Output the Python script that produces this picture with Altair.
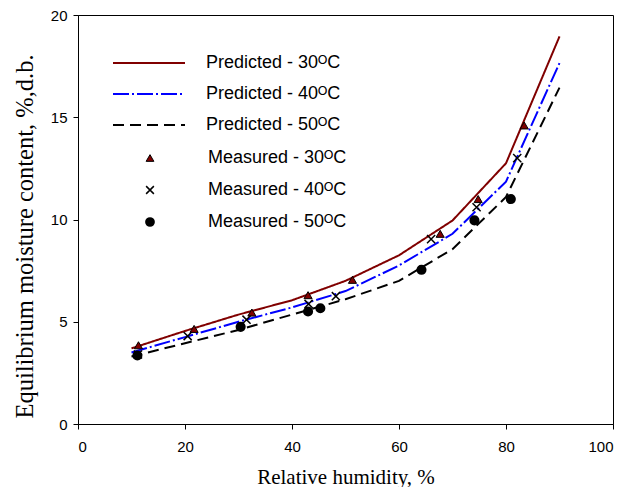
import altair as alt
import pandas as pd

# Predicted curves (relative humidity, %)
rh_pred = [10, 20, 30, 40, 50, 60, 70, 80, 90]
emc_pred_30 = [3.70, 4.55, 5.35, 6.05, 7.00, 8.25, 9.95, 12.75, 18.95]
emc_pred_40 = [3.50, 4.25, 5.00, 5.70, 6.50, 7.75, 9.30, 11.85, 17.65]
emc_pred_50 = [3.30, 3.95, 4.60, 5.35, 6.10, 7.00, 8.55, 11.10, 16.45]

# Measured points
rh_meas_30 = [11.3, 21.7, 32.5, 43.0, 51.3, 67.7, 74.8, 83.4]
emc_meas_30 = [3.85, 4.65, 5.45, 6.30, 7.05, 9.30, 11.0, 14.6]
rh_meas_40 = [11.2, 20.5, 31.5, 43.1, 48.2, 66.0, 74.5, 82.1]
emc_meas_40 = [3.40, 4.30, 5.10, 5.87, 6.25, 9.04, 10.6, 13.0]
rh_meas_50 = [11.1, 30.4, 43.0, 45.3, 64.2, 74.1, 80.9]
emc_meas_50 = [3.35, 4.75, 5.50, 5.66, 7.54, 9.96, 11.0]

pred_names = ["Predicted - 30ᴼC", "Predicted - 40ᴼC", "Predicted - 50ᴼC"]
meas_names = ["Measured - 30ᴼC", "Measured - 40ᴼC", "Measured - 50ᴼC"]

rows = []
for name, ys in zip(pred_names, [emc_pred_30, emc_pred_40, emc_pred_50]):
    for x, y in zip(rh_pred, ys):
        rows.append({"rh": x, "emc": y, "series": name})
pred_df = pd.DataFrame(rows)

rows = []
for name, xs, ys in zip(meas_names, [rh_meas_30, rh_meas_40, rh_meas_50],
                        [emc_meas_30, emc_meas_40, emc_meas_50]):
    for x, y in zip(xs, ys):
        rows.append({"rh": x, "emc": y, "series": name})
meas_df = pd.DataFrame(rows)

x_enc = alt.X("rh:Q", scale=alt.Scale(domain=[0, 100], nice=False),
              axis=alt.Axis(title="Relative humidity, %", values=[0, 20, 40, 60, 80, 100],
                            labelPadding=10, titleFontSize=21,
                            titleY=59, titleBaseline="alphabetic"))
y_enc = alt.Y("emc:Q", scale=alt.Scale(domain=[0, 20], nice=False),
              axis=alt.Axis(title="Equilibrium moisture content, %,d.b.",
                            values=[0, 5, 10, 15, 20], labelPadding=6,
                            titleFontSize=24.5, titleX=-46, titleY=221,
                            titleAngle=270, titleAlign="center",
                            titleBaseline="alphabetic"))

lines = alt.Chart(pred_df).mark_line(strokeWidth=2).encode(
    x=x_enc, y=y_enc,
    color=alt.Color("series:N", scale=alt.Scale(domain=pred_names,
                    range=["#800000", "#0000ff", "#000000"]),
                    legend=alt.Legend(title=None, orient="none", legendX=62, legendY=39,
                                      symbolType="M-8,0L8,0", symbolSize=81,
                                      symbolStrokeWidth=2,
                                      labelFontSize=18, labelFont="Liberation Sans",
                                      labelColor="#000000",
                                      rowPadding=13, labelOffset=48, padding=0)),
    strokeDash=alt.StrokeDash("series:N", scale=alt.Scale(domain=pred_names,
                              range=[[1, 0], [16, 3, 2, 3], [11, 6]]),
                              legend=alt.Legend(title=None)),
)

points = alt.Chart(meas_df).mark_point(filled=True, size=66, opacity=1).encode(
    x="rh:Q", y="emc:Q",
    shape=alt.Shape("series:N", scale=alt.Scale(domain=meas_names,
                    range=["triangle-up", "M-1,-1L1,1M-1,1L1,-1", "circle"]),
                    legend=alt.Legend(title=None, orient="none", legendX=63, legendY=134,
                                      labelFontSize=18, labelFont="Liberation Sans",
                                      labelColor="#000000",
                                      rowPadding=14, labelOffset=49, padding=0,
                                      symbolSize=60, symbolOpacity=1)),
    fill=alt.Fill("series:N", scale=alt.Scale(domain=meas_names,
                  range=["#800000", "#000000", "#000000"]), legend=alt.Legend(title=None)),
    stroke=alt.Stroke("series:N", scale=alt.Scale(domain=meas_names,
                      range=["#000000", "#000000", "#000000"]), legend=alt.Legend(title=None)),
    strokeWidth=alt.StrokeWidth("series:N", scale=alt.Scale(domain=meas_names,
                                range=[1, 2, 1]), legend=alt.Legend(title=None)),
)

chart = alt.layer(lines, points).resolve_scale(
    color="independent", strokeDash="independent", shape="independent",
    fill="independent", stroke="independent", strokeWidth="independent"
).properties(
    width=535, height=409,
    autosize=alt.AutoSizeParams(type="none"),
    padding={"left": 70, "top": 7, "right": 12, "bottom": 63},
).configure_view(stroke="#000000", strokeWidth=1).configure_axis(
    labelFont="Liberation Sans", labelFontSize=15, labelColor="#000000",
    titleFont="Liberation Serif", titleFontWeight="normal", titleColor="#000000",
    domainColor="#000000", tickColor="#000000", tickSize=5, grid=False,
)

chart.save("out.html", embed_options={"renderer": "svg", "actions": False})
